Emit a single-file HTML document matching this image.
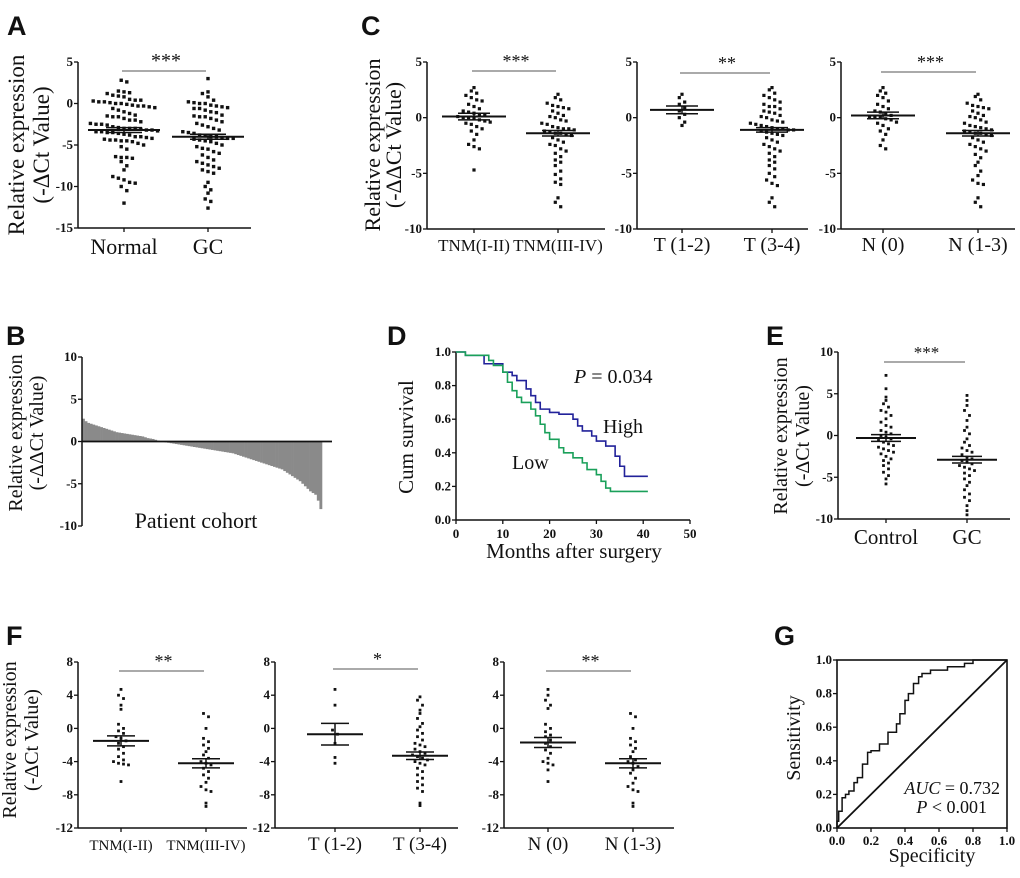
<!DOCTYPE html>
<html><head><meta charset="utf-8"><style>
html,body{margin:0;padding:0;background:#fff}
svg{display:block}
text{font-family:"Liberation Serif",serif;fill:#111}
.lt{font-family:"Liberation Sans",sans-serif;font-weight:bold;font-size:27px}
.tk{font-size:13px;font-weight:bold}
</style></head><body>
<svg id="fig" width="1020" height="878" viewBox="0 0 1020 878"></svg>
<script>
// ---------- data ----------
const aNormal=[2.8,2.6,1.5,1.4,1.3,1.2,1,0.9,0.8,0.5,0.4,0.4,0.3,0.2,0.2,0.1,0,0,-0.1,-0.2,-0.3,-0.3,-0.4,-0.5,-0.6,-0.8,-1,-1.2,-1.4,-1.5,-1.6,-1.6,-1.8,-2,-2,-2.2,-2.4,-2.5,-2.5,-2.6,-2.8,-2.9,-3,-3,-3,-3.1,-3.2,-3.2,-3.3,-3.4,-3.4,-3.5,-3.5,-3.6,-3.7,-3.8,-4,-4,-4.1,-4.2,-4.3,-4.4,-4.4,-4.5,-4.5,-4.6,-4.8,-5,-5.2,-5.5,-6.4,-6.5,-6.5,-6.6,-7,-7.5,-8,-8.8,-9,-9.2,-9.5,-9.6,-10,-10.5,-12];
const aGC=[3,1.4,1.2,0.8,0.4,0.2,0.1,0,0,-0.2,-0.3,-0.4,-0.5,-0.6,-0.6,-0.8,-1,-1.1,-1.4,-1.5,-1.6,-1.6,-1.8,-2,-2.2,-2.4,-2.6,-2.8,-3,-3.2,-3.4,-3.5,-3.6,-3.8,-3.9,-4,-4,-4.1,-4.2,-4.2,-4.3,-4.4,-4.5,-4.6,-4.8,-5,-5.2,-5.4,-5.5,-5.8,-6,-6.2,-6.5,-6.8,-7,-7.2,-7.4,-7.6,-7.8,-8,-8.2,-8.4,-9.5,-10,-10.4,-10.8,-11.5,-11.8,-12.6];
const aMeans=[-3.2,-4.0], aSems=[0.3,0.3];
const c1a=[2.7,2.4,2.2,2,1.8,1.6,1.5,1.2,1,0.8,0.6,0.5,0.4,0.3,0.2,0.1,0,0,-0.1,-0.2,-0.3,-0.4,-0.5,-0.6,-0.8,-1,-1.2,-1.5,-2,-2.4,-2.6,-2.8,-4.7];
const c1b=[2.1,1.8,1.6,1.3,1.1,1,0.9,0.8,0.6,0.4,0.2,0.1,0,-0.2,-0.3,-0.5,-0.6,-0.8,-0.9,-1,-1,-1.1,-1.2,-1.3,-1.4,-1.4,-1.5,-1.6,-1.8,-2,-2.2,-2.4,-2.5,-2.8,-3,-3.2,-3.5,-3.8,-4,-4.3,-4.8,-5.1,-5.5,-5.8,-6,-7.2,-7.6,-8];
const c2a=[2.1,1.8,1.4,1.2,0.9,0.6,0.3,0,-0.4,-0.7];
const c2b=[2.7,2.5,2.2,2,1.8,1.6,1.4,1.2,1,1,0.8,0.6,0.5,0.4,0.2,0.1,0,-0.2,-0.3,-0.4,-0.5,-0.6,-0.7,-0.8,-0.9,-1,-1,-1.1,-1.1,-1.2,-1.3,-1.4,-1.5,-1.6,-1.8,-2,-2.2,-2.4,-2.6,-2.8,-3,-3.2,-3.5,-3.8,-4,-4.3,-4.6,-5,-5.3,-5.6,-5.9,-6.1,-7.2,-7.6,-8];
const c3a=[2.7,2.4,2.2,2,1.8,1.5,1.2,1,0.8,0.6,0.5,0.4,0.2,0.1,0,0,-0.1,-0.2,-0.4,-0.5,-0.7,-1,-1.2,-1.5,-2,-2.5,-2.8];
const c3b=[2.1,1.9,1.6,1.3,1.1,1,0.9,0.8,0.6,0.4,0.2,0.1,0,-0.2,-0.4,-0.5,-0.7,-0.8,-0.9,-1,-1.1,-1.2,-1.3,-1.4,-1.4,-1.5,-1.6,-1.8,-2,-2.2,-2.4,-2.6,-2.8,-3,-3.3,-3.6,-4,-4.3,-4.8,-5.2,-5.6,-5.9,-6,-7.2,-7.6,-8];
const cMeans=[[0.1,-1.4],[0.7,-1.1],[0.2,-1.4]], cSems=[[0.3,0.25],[0.35,0.2],[0.3,0.25]];
const eCtrl=[7.2,5.6,4.6,4.2,3.8,3.4,3,2.8,2.4,2,1.6,1.2,1,0.6,0.4,0.2,0,-0.2,-0.4,-0.6,-0.8,-1,-1.2,-1.4,-1.6,-1.8,-2,-2.2,-2.5,-2.8,-3,-3.3,-3.6,-4,-4.4,-4.8,-5.2,-5.8];
const eGC=[4.8,4.2,3.6,3,2.4,1.8,1,0.6,0.2,-0.4,-0.8,-1.2,-1.5,-1.8,-2,-2.3,-2.6,-2.8,-3,-3.2,-3.4,-3.6,-3.8,-4,-4.2,-4.5,-4.8,-5.2,-5.6,-6,-6.5,-7,-7.4,-7.8,-8.4,-9,-9.5];
const eMeans=[-0.3,-2.9], eSems=[0.4,0.4];
const f1a=[4.7,4,3.6,2.8,2.3,0.5,0,-0.3,-0.6,-1,-1.2,-1.5,-1.8,-2.2,-2.5,-3,-3.4,-3.8,-4,-4.2,-4.3,-4.4,-6.4];
const f1b=[1.8,1.4,0,-1.2,-1.6,-2,-2.4,-2.8,-3.2,-3.6,-4,-4.2,-4.4,-4.8,-5.2,-5.6,-6,-6.5,-7,-7.4,-7.6,-9,-9.4];
const f2a=[4.7,2.8,-0.2,-0.7,-1.8,-3.5,-4.2];
const f2b=[3.8,3.4,2.8,2.2,1.8,1.2,0.6,0.2,-0.2,-0.6,-1,-1.4,-1.8,-2,-2.2,-2.5,-2.8,-3,-3.2,-3.4,-3.6,-3.8,-4,-4.2,-4.4,-4.8,-5.2,-5.6,-6,-6.4,-6.8,-7.2,-7.6,-9,-9.3];
const f3a=[4.7,4,3.4,2.8,2.4,0.5,0,-0.4,-0.8,-1,-1.4,-1.8,-2.2,-2.6,-3,-3.6,-4,-4.2,-4.4,-5,-6.4];
const f3b=[1.8,1.4,0,-1.2,-1.6,-2,-2.4,-2.8,-3.4,-3.8,-4,-4.2,-4.6,-5,-5.4,-6,-6.6,-7,-7.4,-7.6,-9,-9.4];
const fMeans=[[-1.5,-4.2],[-0.7,-3.3],[-1.7,-4.2]], fSems=[[0.6,0.55],[1.3,0.45],[0.6,0.55]];
const bValues=[2.7,2.4,2.2,2.1,2,1.9,1.8,1.7,1.6,1.5,1.4,1.3,1.2,1.1,1.05,1,0.95,0.9,0.85,0.8,0.75,0.7,0.65,0.6,0.5,0.4,0.35,0.3,0.2,0.1,0,-0.05,-0.1,-0.15,-0.2,-0.25,-0.3,-0.35,-0.4,-0.45,-0.5,-0.55,-0.6,-0.65,-0.7,-0.75,-0.8,-0.85,-0.9,-0.95,-1,-1.05,-1.1,-1.15,-1.2,-1.25,-1.3,-1.35,-1.4,-1.5,-1.6,-1.7,-1.8,-1.9,-2,-2.1,-2.2,-2.3,-2.4,-2.5,-2.6,-2.7,-2.8,-2.9,-3,-3.1,-3.2,-3.3,-3.5,-3.7,-3.9,-4.1,-4.3,-4.5,-4.7,-5,-5.3,-5.6,-5.9,-6.1,-6.3,-7,-8];
const kmHighT=[0,2,6,10,12,13,15,16,17,18,20,22,25,26,27,29,30,32,34,35,36,41];
const kmHighS=[1,0.98,0.93,0.88,0.86,0.83,0.78,0.74,0.70,0.66,0.64,0.63,0.60,0.56,0.53,0.50,0.47,0.44,0.38,0.32,0.26,0.26];
const kmLowT=[0,2,7,8,10,11,12,13,14,16,17,18,19,20,22,23,25,27,28,30,31,32,33,41];
const kmLowS=[1,0.98,0.95,0.92,0.88,0.82,0.77,0.73,0.70,0.66,0.62,0.57,0.52,0.48,0.43,0.40,0.37,0.34,0.30,0.27,0.23,0.19,0.17,0.17];
const rocSpec=[0,0,0.01,0.03,0.05,0.07,0.1,0.12,0.15,0.18,0.2,0.25,0.3,0.35,0.37,0.4,0.42,0.45,0.48,0.5,0.55,0.65,0.75,0.8,1];
const rocSens=[0,0.04,0.1,0.18,0.2,0.22,0.27,0.3,0.38,0.45,0.46,0.5,0.57,0.62,0.68,0.76,0.8,0.86,0.9,0.92,0.94,0.96,0.98,1,1];

// ---------- helpers ----------
const NS='http://www.w3.org/2000/svg';const svg=document.getElementById('fig');
function el(tag,attrs,parent){const e=document.createElementNS(NS,tag);for(const k in attrs)e.setAttribute(k,attrs[k]);(parent||svg).appendChild(e);return e;}
function txt(s,x,y,size,anchor,parent,extra){const t=el('text',Object.assign({x:x,y:y,'font-size':size,'text-anchor':anchor||'middle'},extra||{}),parent);t.textContent=s;return t;}
function line(x1,y1,x2,y2,w,c,parent){return el('line',{x1,y1,x2,y2,stroke:c||'#111','stroke-width':w||1.5},parent);}
function letter(s,x,y){const t=txt(s,x,y,27,'start',null,{class:'lt'});}
function ylabel(lines,x,cy,size,gap){lines.forEach((s,i)=>{const t=txt(s,0,0,size,'middle',null,{transform:`translate(${x+i*gap},${cy}) rotate(-90)`});});}

function scatter(c,groups,means,sems,name){
  const g=el('g',{});
  const Y=v=>c.yBot-(v-c.ymin)/(c.ymax-c.ymin)*(c.yBot-c.yTop);
  line(c.x0,c.yTop,c.x0,c.yBot,1.5,'#111',g);line(c.x0,c.yBot,c.x1,c.yBot,1.5,'#111',g);
  c.ticks.forEach(v=>{line(c.x0-4,Y(v),c.x0,Y(v),1.3,'#111',g);const t=txt(String(v),c.x0-5,Y(v)+4,c.tickSize||13,'end',g,{class:'tk'});});
  c.cats.forEach((cx,i)=>{line(cx,c.yBot,cx,c.yBot+4,1.3,'#111',g);const t=txt(c.labels[i],cx,c.yBot+c.labDy,c.labSize,'middle',g);});
  const bin=c.dot*2.2;
  groups.forEach((vals,gi)=>{
    const rows={};
    vals.forEach(v=>{const py=Y(v);const k=Math.round(py/bin);(rows[k]=rows[k]||[]).push(py);});
    Object.keys(rows).forEach(k=>{const arr=rows[k];arr.forEach((py,i)=>{const ox=(i-(arr.length-1)/2)*(c.dot+2.2);
      const r=el('rect',{x:c.cats[gi]+ox-c.dot/2,y:py-c.dot/2,width:c.dot,height:c.dot,fill:'#111'},g);
      });});
    const m=Y(means[gi]);const w=c.meanW;
    line(c.cats[gi]-w,m,c.cats[gi]+w,m,2,'#111',g);
    const s1=Y(means[gi]+sems[gi]),s2=Y(means[gi]-sems[gi]);
    line(c.cats[gi],s1,c.cats[gi],s2,1.5,'#111',g);line(c.cats[gi]-w*0.5,s1,c.cats[gi]+w*0.5,s1,1.5,'#111',g);line(c.cats[gi]-w*0.5,s2,c.cats[gi]+w*0.5,s2,1.5,'#111',g);
  });
  const sl=line(c.cats[0]-2,c.sigY,c.cats[1]-2,c.sigY,1.3,'#777',g);
  const st=txt(c.sig,(c.cats[0]+c.cats[1])/2,c.sigY-4,c.sigSize||18,'middle',g);
}

// ---------- A ----------
letter('A',7,35);
ylabel(['Relative expression','(-\u0394Ct Value)'],24,145,23,25);
scatter({x0:78,x1:251,yTop:62,yBot:228,ymin:-15,ymax:5,ticks:[5,0,-5,-10,-15],cats:[124,208],labels:['Normal','GC'],labDy:26,labSize:22,dot:3.4,meanW:36,sigY:71,sig:'***',sigSize:20},[aNormal,aGC],aMeans,aSems,'panel-a-scatter');

// ---------- C ----------
letter('C',361,35);
ylabel(['Relative expression','(-\u0394\u0394Ct Value)'],380,145,22,21);
const cY={yTop:62,yBot:229,ymin:-10,ymax:5,ticks:[5,0,-5,-10],dot:3.2,meanW:32,labDy:22};
scatter(Object.assign({},cY,{x0:427,x1:605,cats:[474,558],labels:['TNM(I-II)','TNM(III-IV)'],labSize:17,sigY:71,sig:'***'}),[c1a,c1b],cMeans[0],cSems[0],'panel-c-tnm');
scatter(Object.assign({},cY,{x0:637,x1:808,cats:[682,772],labels:['T (1-2)','T (3-4)'],labSize:20,sigY:73,sig:'**'}),[c2a,c2b],cMeans[1],cSems[1],'panel-c-t');
scatter(Object.assign({},cY,{x0:841,x1:1015,cats:[883,978],labels:['N (0)','N (1-3)'],labSize:20,sigY:72,sig:'***'}),[c3a,c3b],cMeans[2],cSems[2],'panel-c-n');

// ---------- B ----------
letter('B',6,345);
ylabel(['Relative expression','(-\u0394\u0394Ct Value)'],22,433,20,21);
(function(){const g=el('g',{});
  const x0=82,x1=322,yTop=357,yBot=526,ymin=-10,ymax=10;const Y=v=>yBot-(v-ymin)/(ymax-ymin)*(yBot-yTop);
  const bw=(x1-x0)/bValues.length;
  bValues.forEach((v,i)=>{const a=Y(0),b=Y(v);const r=el('rect',{x:x0+i*bw,y:Math.min(a,b),width:bw+0.3,height:Math.abs(a-b),fill:'#8a8a8a'},g);});
  line(x0,yTop,x0,yBot,1.5,'#111',g);line(x0,Y(0),332,Y(0),1.8,'#111',g);
  [10,5,0,-5,-10].forEach(v=>{line(x0-4,Y(v),x0,Y(v),1.3,'#111',g);const t=txt(String(v),x0-5,Y(v)+4,13,'end',g,{class:'tk'});});
  const t=txt('Patient cohort',196,528,22,'middle',g);
})();

// ---------- D ----------
letter('D',387,345);
(function(){const g=el('g',{});
  const x0=456,x1=690,yTop=352,yBot=520;const X=t=>x0+t/50*(x1-x0),Y=s=>yBot-s*(yBot-yTop);
  line(x0,yTop,x0,yBot,1.5,'#111',g);line(x0,yBot,x1,yBot,1.5,'#111',g);
  [0,10,20,30,40,50].forEach(v=>{line(X(v),yBot,X(v),yBot+4,1.3,'#111',g);const t=txt(String(v),X(v),yBot+18,13,'middle',g,{class:'tk'});});
  [0,0.2,0.4,0.6,0.8,1].forEach(v=>{line(x0-4,Y(v),x0,Y(v),1.3,'#111',g);const t=txt(v.toFixed(1),x0-5,Y(v)+4,13,'end',g,{class:'tk'});});
  function km(T,S,col,name){let d=`M${X(T[0])},${Y(S[0])}`;for(let i=1;i<T.length;i++){d+=` H${X(T[i])} V${Y(S[i])}`;}
    const p=el('path',{d:d,fill:'none',stroke:col,'stroke-width':1.6},g);}
  km(kmHighT,kmHighS,'#22229a','km-curve-high');km(kmLowT,kmLowS,'#1aa05a','km-curve-low');
  const t1=txt('Cum survival',413,437,21,'middle',g,{transform:'rotate(-90 413 437)'});
  const t2=txt('Months after surgery',574,558,21,'middle',g);
  const t3=el('text',{x:574,y:383,'font-size':20},g);t3.innerHTML='<tspan font-style="italic">P</tspan> = 0.034';
  const t4=txt('High',603,433,20,'start',g);
  const t5=txt('Low',512,469,20,'start',g);
})();

// ---------- E ----------
letter('E',766,345);
ylabel(['Relative expression','(-\u0394Ct Value)'],787,436,20,22);
scatter({x0:838,x1:1010,yTop:352,yBot:519,ymin:-10,ymax:10,ticks:[10,5,0,-5,-10],cats:[886,967],labels:['Control','GC'],labDy:25,labSize:21,dot:2.8,meanW:30,sigY:362,sig:'***',sigSize:17},[eCtrl,eGC],eMeans,eSems,'panel-e-scatter');

// ---------- F ----------
letter('F',6,645);
ylabel(['Relative expression','(-\u0394Ct Value)'],16,740,20,22);
const fY={yTop:662,yBot:828,ymin:-12,ymax:8,ticks:[8,4,0,-4,-8,-12],dot:2.8,meanW:28,labDy:22,tickSize:12};
scatter(Object.assign({},fY,{x0:78,x1:247,cats:[121,206],labels:['TNM(I-II)','TNM(III-IV)'],labSize:15,sigY:671,sig:'**'}),[f1a,f1b],fMeans[0],fSems[0],'panel-f-tnm');
scatter(Object.assign({},fY,{x0:275,x1:458,cats:[335,420],labels:['T (1-2)','T (3-4)'],labSize:19,sigY:669,sig:'*'}),[f2a,f2b],fMeans[1],fSems[1],'panel-f-t');
scatter(Object.assign({},fY,{x0:504,x1:674,cats:[548,633],labels:['N (0)','N (1-3)'],labSize:19,sigY:671,sig:'**'}),[f3a,f3b],fMeans[2],fSems[2],'panel-f-n');

// ---------- G ----------
letter('G',774,645);
(function(){const g=el('g',{});
  const x0=837,x1=1007,yTop=660,yBot=828;const X=v=>x0+v*(x1-x0),Y=v=>yBot-v*(yBot-yTop);
  el('rect',{x:x0,y:yTop,width:x1-x0,height:yBot-yTop,fill:'none',stroke:'#111','stroke-width':1.6},g);
  [0,0.2,0.4,0.6,0.8,1].forEach(v=>{line(X(v),yBot,X(v),yBot+4,1.3,'#111',g);const t=txt(v.toFixed(1),X(v),yBot+17,12,'middle',g,{class:'tk'});
    line(x0-4,Y(v),x0,Y(v),1.3,'#111',g);const t2=txt(v.toFixed(1),x0-5,Y(v)+4,12,'end',g,{class:'tk'});});
  const dg=line(X(0),Y(0),X(1),Y(1),1.8,'#111',g);
  let d=`M${X(rocSpec[0])},${Y(rocSens[0])}`;for(let i=1;i<rocSpec.length;i++){d+=` H${X(rocSpec[i])} V${Y(rocSens[i])}`;}
  const p=el('path',{d:d,fill:'none',stroke:'#111','stroke-width':1.5},g);
  const t1=txt('Sensitivity',800,738,20,'middle',g,{transform:'rotate(-90 800 738)'});
  const t2=txt('Specificity',932,862,20,'middle',g);
  const t3=el('text',{x:1000,y:794,'font-size':18,'text-anchor':'end'},g);t3.innerHTML='<tspan font-style="italic">AUC</tspan> = 0.732';
  const t4=el('text',{x:987,y:813,'font-size':18,'text-anchor':'end'},g);t4.innerHTML='<tspan font-style="italic">P</tspan> &lt; 0.001';
})();
</script>
</body></html>
